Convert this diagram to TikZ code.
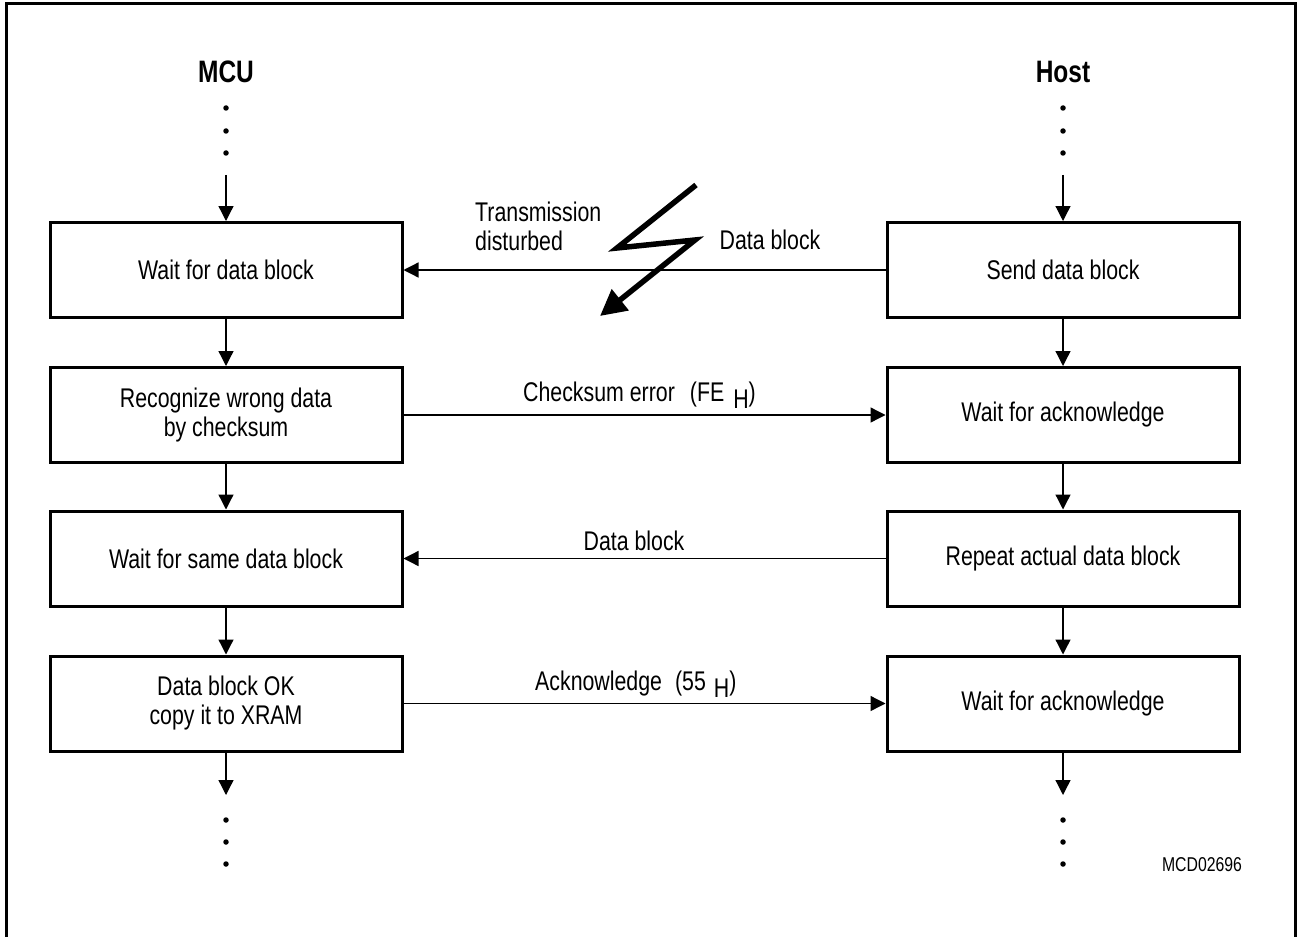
\documentclass[tikz,border=0pt]{standalone}
\usepackage{fontspec}
\setmainfont{Liberation Sans}[FakeStretch=0.79]
\usetikzlibrary{arrows.meta}
\begin{document}
\begin{tikzpicture}[x=1pt,y=-1pt,
  box/.style={draw,line width=3pt,minimum width=352pt,minimum height=95pt,align=center,inner sep=0pt,font=\fontsize{27}{29}\selectfont},
  lbl/.style={inner sep=0pt,font=\fontsize{27}{29}\selectfont},
  head/.style={inner sep=0pt,font=\fontsize{31}{34}\selectfont\bfseries},
  flow/.style={-{Triangle[length=15pt,width=15pt]},line width=1.3pt},
  dotm/.style={circle,fill,inner sep=0pt,minimum size=5.5pt}]
\useasboundingbox (0,0) rectangle (1297,936);
\draw[line width=3pt] (6,945) -- (6,4) -- (1295,4) -- (1295,945);

% headings
\node[head] (mcu) at (226,72) {MCU};
\node[head] (host) at (1063,72) {Host};

% dots
\foreach \y [count=\i] in {108,131,153}{
  \node[dotm] (mt\i) at (226,\y) {};
  \node[dotm] (ht\i) at (1063,\y) {};
}
\foreach \y [count=\i] in {820,842,864}{
  \node[dotm] (mb\i) at (226,\y) {};
  \node[dotm] (hb\i) at (1063,\y) {};
}

% boxes
\node[box] (m1) at (226,270) {Wait for data block};
\node[box] (m2) at (226,415) {Recognize wrong data\\by checksum};
\node[box] (m3) at (226,558.5) {Wait for same data block};
\node[box] (m4) at (226,703.5) {Data block OK\\copy it to XRAM};
\node[box] (h1) at (1063,270) {Send data block};
\node[box] (h2) at (1063,415) {Wait for acknowledge};
\node[box] (h3) at (1063,558.5) {Repeat actual data block};
\node[box] (h4) at (1063,703.5) {Wait for acknowledge};

% vertical flow
\coordinate (mtop) at (226,175);
\coordinate (htop) at (1063,175);
\coordinate (mbot) at (226,795);
\coordinate (hbot) at (1063,795);
\draw[flow] (mtop) -- (m1);
\draw[flow] (htop) -- (h1);
\draw[flow] (m1) -- (m2);
\draw[flow] (m2) -- (m3);
\draw[flow] (m3) -- (m4);
\draw[flow] (m4) -- (mbot);
\draw[flow] (h1) -- (h2);
\draw[flow] (h2) -- (h3);
\draw[flow] (h3) -- (h4);
\draw[flow] (h4) -- (hbot);

% horizontal messages
\draw[flow] (h1) -- (m1);
\draw[flow] (m2) -- (h2);
\draw[flow] (h3) -- (m3);
\draw[flow] (m4) -- (h4);

% labels
\node[lbl,align=left,anchor=west] (td) at (475,226) {Transmission\\disturbed};
\node[lbl] (db1) at (770,240) {Data block};
\node[lbl,anchor=base west] (cs) at (523,401) {Checksum error\hspace{15pt}(FE\hspace{9pt}\raisebox{-7pt}{H})};
\node[lbl] (db2) at (634,541) {Data block};
\node[lbl,anchor=base west] (ack) at (535,690) {Acknowledge\hspace{13pt}(55\hspace{8pt}\raisebox{-7pt}{H})};

% lightning
\coordinate (l1) at (696,185);
\coordinate (l2) at (617,248);
\coordinate (l3) at (695,240);
\coordinate (l4) at (600,316);
\draw[line width=5.5pt,miter limit=10,-{Triangle[length=26pt,width=26pt]}] (l1) -- (l2) -- (l3) -- (l4);

\node[inner sep=0pt,font=\fontsize{20}{24}\selectfont] (id) at (1202,865) {MCD02696};
\end{tikzpicture}
\end{document}
